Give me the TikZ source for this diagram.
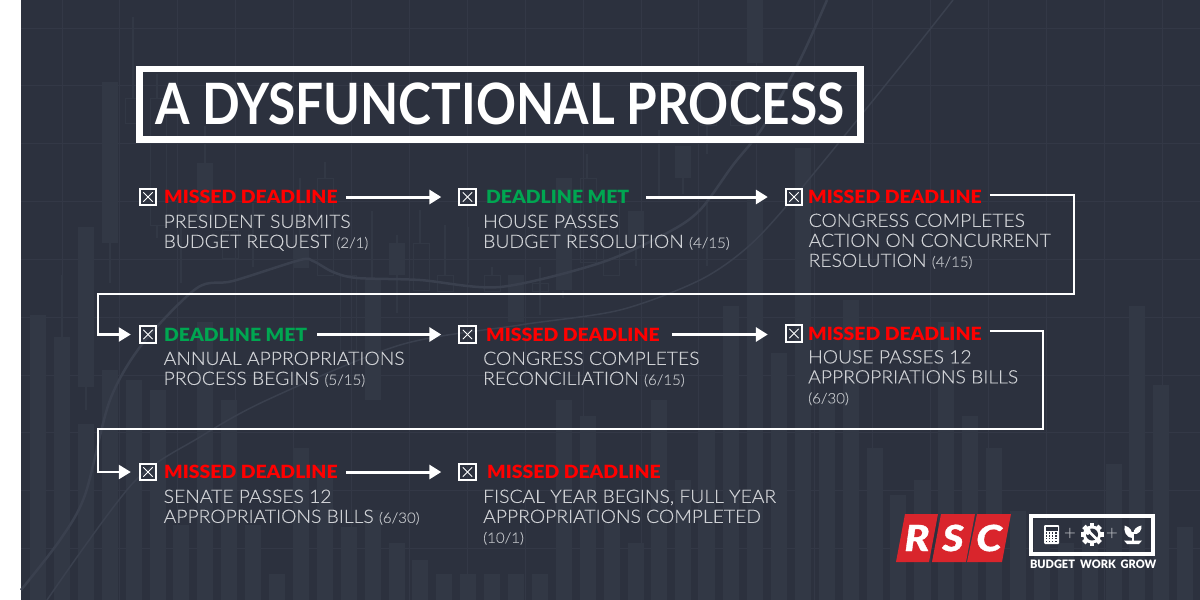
\documentclass[tikz,border=0pt]{standalone}
\usepackage{fontspec}
\setmainfont{Lato}
\newfontfamily\titlefont[FakeStretch=0.87]{Lato}
\newfontfamily\descfont[FakeStretch=1.05,FakeBold=0.2]{Lato Light}
\newfontfamily\heavyfont[FakeStretch=1.067]{Lato Black}
\newfontfamily\tagfont[FakeStretch=0.95]{Lato Black}
\newfontfamily\plainlight{Lato Light}
\newfontfamily\logofont[ItalicFont={Lato Black Italic},ItalicFeatures={FakeStretch=1.15,FakeBold=1}]{Lato Black}
\usepackage{tikz}
\usetikzlibrary{arrows.meta,calc}
\usepackage{xcolor}
\definecolor{panel}{HTML}{2C313E}
\definecolor{gridln}{HTML}{333846}
\definecolor{barc}{HTML}{323845}
\definecolor{curvec}{HTML}{3A404E}
\definecolor{txt}{HTML}{CFD1D5}
\definecolor{txt2}{HTML}{B8BBC0}
\definecolor{missed}{HTML}{FF0000}
\definecolor{met}{HTML}{00A651}
\definecolor{logored}{HTML}{D9252C}
\newcommand{\dt}[1]{{\color{txt2}\fontsize{14.4}{20}\selectfont #1}}

\begin{document}
\begin{tikzpicture}[
  x=1pt, y=-1pt,
  titlebox/.style={draw=white, line width=6.5pt, minimum width=721pt, minimum height=70.5pt, inner sep=0pt, text=white, font=\titlefont\fontsize{57}{60}\selectfont\bfseries},
  chk/.style={draw=white, line width=1.9pt, minimum size=16.5pt, inner sep=0pt, path picture={
    \draw[white, line width=0.8pt] ($(path picture bounding box.south west)+(3.6pt,3.6pt)$) -- ($(path picture bounding box.north east)+(-3.6pt,-3.6pt)$);
    \draw[white, line width=0.8pt] ($(path picture bounding box.north west)+(3.6pt,-3.6pt)$) -- ($(path picture bounding box.south east)+(-3.6pt,3.6pt)$);
  }},
  status/.style={anchor=west, inner sep=0pt, text height=13pt, text depth=0pt, font=\heavyfont\fontsize{18.2}{20}\selectfont},
  miss/.style={status, text=missed},
  ok/.style={status, text=met},
  desc/.style={anchor=north west, inner sep=0pt, align=left, text=txt, font=\descfont\fontsize{18.4}{20}\selectfont},
  arr/.style={-{Triangle[length=12pt,width=14pt]}, white, line width=3pt, shorten <=8pt},
  elbow/.style={arr, line width=2.4pt},
  tag/.style={inner sep=0pt, text=white, font=\tagfont\fontsize{11.6}{12}\selectfont},
  rsc/.style={inner sep=0pt, text=white, font=\logofont\itshape\fontsize{36}{40}\selectfont},
  plus/.style={inner sep=0pt, text=txt2, font=\plainlight\fontsize{21}{22}\selectfont},
  wick/.style={draw=barc, line width=2.4pt},
  hollow/.style={draw=barc, line width=1pt},
]
\useasboundingbox (0,0) rectangle (1200,600);
\fill[white] (0,0) rectangle (1200,600);
\fill[panel] (21,0) rectangle (1200,600);

% grid
\foreach \k in {0,...,19} \draw[gridln, line width=1pt] ({62+57.9*\k},0) -- ({62+57.9*\k},600);
\foreach \y in {28,85.5,143,201,259,317,375,432,490,548} \draw[gridln, line width=1pt] (21,\y) -- (1200,\y);

% bars
\foreach \k/\t in {0/315,1/337,2/424,3/370,4/380,5/390,6/525,7/322,8/400,9/525,10/574,11/448,12/465,13/527,14/510,15/543,16/560,17/574,18/574,19/574,20/574,21/574,22/400,23/416,24/523,25/543,26/400,27/480,28/430,29/306,30/200,31/353,32/148,33/400,34/300,35/448,36/495,37/480,38/322,39/416,40/448,41/511,42/520,43/543,44/520,45/464,46/306,47/385,48/527}
  \fill[barc] ({30+23.9*\k},\t) rectangle ({46+23.9*\k},600);

% candles
\foreach \x/\a/\b in {102/82/243,78/227/387,197/163/220,293/247/268,389/243/275,508/275/322,556/178/290,628/211/243,675/146/178,747/0/63,365/280/400}
  \fill[barc] (\x,\a) rectangle ({\x+16},\b);
\foreach \x/\a/\b in {125/98/123,150/98/225,222/230/258,317/178/275,340/275/350,413/243/290,437/275/291,484/275/291,532/283/291,580/178/262,603/200/275,700/80/125,730/80/125}
  \draw[hollow] (\x,\a) rectangle ({\x+16},\b);
\foreach \x/\a/\b in {110/243/283,86/387/410,62/275/337,133/17/98,157/74/98,157/225/238,205/126/163,181/213/283,253/203/267,300/178/247,325/162/178,372/211/280,397/235/313,420/210/243,445/225/275,468/227/283,492/267/275,540/267/315,563/291/298,587/154/178,636/243/266,659/130/200,683/178/194,707/120/154,707/200/266}
  \draw[wick] (\x,\a) -- (\x,\b);

% curves
\draw[curvec, line width=2.5pt, smooth] plot coordinates {(21,590) (60,540) (85,495) (110,400) (143,343) (197,288) (233,281) (300,260) (313,261) (333,272) (357,278) (420,280) (500,287) (600,263) (667,233) (700,210) (733,165) (763,127) (800,60) (827,0)};
\draw[curvec, line width=1.5pt, smooth] plot coordinates {(47,600) (133,483) (200,437) (267,400) (400,345) (520,325) (620,310) (700,280) (750,245) (800,190) (900,67) (953,0)};

\node[titlebox] (title) at (500,104.25) {A DYSFUNCTIONAL PROCESS};

% row 1
\node[chk] (pres) at (148,197) {};
\node[miss] (presst) at (164,197) {MISSED DEADLINE};
\node[desc] (presdesc) at (163.5,214.5) {PRESIDENT SUBMITS\\BUDGET REQUEST \dt{(2/1)}};
\node[chk] (house) at (467.5,197) {};
\node[ok] (housest) at (486,197) {DEADLINE MET};
\node[desc] (housedesc) at (483,214.5) {HOUSE PASSES\\BUDGET RESOLUTION \dt{(4/15)}};
\node[chk] (cong) at (794,197) {};
\node[miss] (congst) at (808,197) {MISSED DEADLINE};
\node[desc] (congdesc) at (808.5,213.5) {CONGRESS COMPLETES\\ACTION ON CONCURRENT\\RESOLUTION \dt{(4/15)}};

% row 2
\node[chk] (annual) at (148,334.5) {};
\node[ok] (annualst) at (164,334.5) {DEADLINE MET};
\node[desc] (annualdesc) at (163.5,351.5) {ANNUAL APPROPRIATIONS\\PROCESS BEGINS \dt{(5/15)}};
\node[chk] (recon) at (467.5,334.5) {};
\node[miss] (reconst) at (486,334.5) {MISSED DEADLINE};
\node[desc] (recondesc) at (483,351.5) {CONGRESS COMPLETES\\RECONCILIATION \dt{(6/15)}};
\node[chk] (hbills) at (794,333.5) {};
\node[miss] (hbillsst) at (808,333.5) {MISSED DEADLINE};
\node[desc] (hbillsdesc) at (808,350) {HOUSE PASSES 12\\APPROPRIATIONS BILLS\\\dt{(6/30)}};

% row 3
\node[chk] (sbills) at (148,472) {};
\node[miss] (sbillsst) at (164,472) {MISSED DEADLINE};
\node[desc] (sbillsdesc) at (163.5,489.5) {SENATE PASSES 12\\APPROPRIATIONS BILLS \dt{(6/30)}};
\node[chk] (fiscal) at (467.5,472) {};
\node[miss] (fiscalst) at (487,472) {MISSED DEADLINE};
\node[desc] (fiscaldesc) at (483,489.5) {FISCAL YEAR BEGINS, FULL YEAR\\APPROPRIATIONS COMPLETED\\\dt{(10/1)}};

\draw[arr, shorten >=17pt] (presst.east) -- (presst.east -| house.west);
\draw[arr, shorten >=17pt, shorten <=17pt] (housest.east) -- (housest.east -| cong.west);
\draw[elbow, shorten >=8pt] ([yshift=2pt]congst.east) -- ++(92,0) |- (98,294) |- (annual.west);
\draw[arr, shorten >=17pt, shorten <=10pt] (annualst.east) -- (annualst.east -| recon.west);
\draw[arr, shorten >=17pt, shorten <=12pt] (reconst.east) -- (reconst.east -| hbills.west);
\draw[elbow, shorten >=8pt] ([yshift=2.5pt]hbillsst.east) -- ++(61,0) |- (98,429) |- (sbills.west);
\draw[arr, shorten >=17pt] (sbillsst.east) -- (sbillsst.east -| fiscal.west);

% logo
\foreach \a/\b/\c/\d in {896/905/938/929,932/941/975/966,967/977/1011/1002}
  \fill[logored] (\a,562) -- (\b,514) -- (\c,514) -- (\d,562) -- cycle;
\node[rsc] (lr) at (917,538) {R};
\node[rsc] (ls) at (953,538) {S};
\node[rsc] (lc) at (989,538) {C};

% badge
\node[draw=white, line width=4.4pt, minimum width=122pt, minimum height=38pt, inner sep=0pt] (badge) at (1092,535) {};
\node[tag] (budget) at (1052.5,564.5) {BUDGET};
\node[tag] (work) at (1098,564.5) {WORK};
\node[tag] (grow) at (1138.5,564.5) {GROW};
\node[plus] (plusa) at (1070,534.5) {+};
\node[plus] (plusb) at (1112,534.5) {+};

% calculator
\fill[white, rounded corners=1pt] (1044,525) rectangle (1059,544);
\fill[panel] (1045.5,526.5) rectangle (1057.5,530.5);
\foreach \x in {0,1,2,3} \foreach \y in {0,1,2,3}
  \fill[panel] ({1045.6+3.1*\x},{532+2.9*\y}) rectangle ++(1.6,1.6);

% gear
\foreach \a in {0,45,...,315}
  \fill[white, shift={(1092,534.5)}, rotate=\a] (-2.4,-11.5) rectangle (2.4,-6);
\fill[white] (1092,534.5) circle[radius=9];
\fill[panel] (1092,534.5) circle[radius=6];
\draw[white, line width=2.8pt] (1089,531.5) -- (1096.5,539);
\fill[white] (1086,529) -- (1090,528.5) -- (1091,532) -- (1088,535) -- (1085,533.5) -- cycle;

% plant
\fill[white] (1124,540.5) -- (1142,540.5) -- (1139,544) -- (1127,544) -- cycle;
\draw[white, line width=1.2pt] (1133,541) -- (1133,532);
\fill[white] (1132.5,538) .. controls (1125,537) and (1124,531) .. (1124.5,525.5) .. controls (1130,527) and (1133,531) .. cycle;
\fill[white] (1133.5,534) .. controls (1133,529) and (1137,526.5) .. (1141.5,525.5) .. controls (1142,530) and (1139,535) .. cycle;
\end{tikzpicture}
\end{document}
